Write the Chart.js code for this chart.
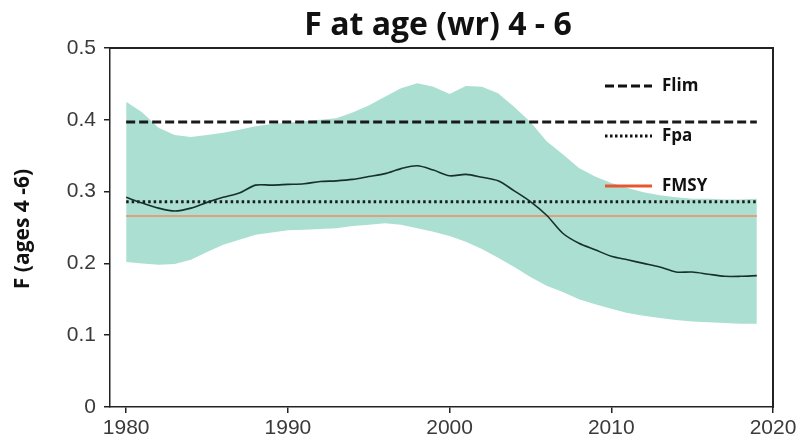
<!DOCTYPE html>
<html>
<head>
<meta charset="utf-8">
<script src="https://cdn.jsdelivr.net/npm/chart.js@4"></script>
<style>
  body { margin: 0; background: #fff; }
</style>
</head>
<body>
<canvas id="fChart" width="800" height="447"></canvas>
<script>
const years = [1980, 1981, 1982, 1983, 1984, 1985, 1986, 1987, 1988, 1989,
  1990, 1991, 1992, 1993, 1994, 1995, 1996, 1997, 1998, 1999,
  2000, 2001, 2002, 2003, 2004, 2005, 2006, 2007, 2008, 2009,
  2010, 2011, 2012, 2013, 2014, 2015, 2016, 2017, 2018, 2019];
const fMean = [0.292, 0.284, 0.277, 0.273, 0.277, 0.285, 0.292, 0.298, 0.309, 0.309,
  0.310, 0.311, 0.314, 0.315, 0.317, 0.321, 0.325, 0.332, 0.336, 0.330,
  0.322, 0.324, 0.320, 0.315, 0.301, 0.286, 0.267, 0.242, 0.228, 0.219,
  0.210, 0.205, 0.200, 0.195, 0.188, 0.188, 0.185, 0.182, 0.182, 0.183];
const fUpper = [0.425, 0.410, 0.389, 0.379, 0.376, 0.379, 0.382, 0.386, 0.391, 0.394,
  0.396, 0.398, 0.400, 0.402, 0.410, 0.420, 0.432, 0.444, 0.451, 0.446,
  0.436, 0.447, 0.446, 0.437, 0.418, 0.397, 0.370, 0.352, 0.333, 0.321,
  0.312, 0.305, 0.299, 0.295, 0.292, 0.290, 0.290, 0.289, 0.289, 0.290];
const fLower = [0.202, 0.200, 0.198, 0.199, 0.205, 0.216, 0.226, 0.233, 0.240, 0.243,
  0.246, 0.247, 0.248, 0.249, 0.252, 0.254, 0.256, 0.254, 0.249, 0.244,
  0.238, 0.230, 0.220, 0.208, 0.195, 0.181, 0.169, 0.160, 0.150, 0.143,
  0.137, 0.131, 0.127, 0.124, 0.121, 0.119, 0.118, 0.117, 0.116, 0.116];
const Flim = 0.397;
const Fpa = 0.286;
const FMSY = 0.266;
const xTicks = [1980, 1990, 2000, 2010, 2020];
const yTicks = [0, 0.1, 0.2, 0.3, 0.4, 0.5];

const toPoints = vals => years.map((y, i) => ({ x: y, y: vals[i] }));
const flat = v => [{ x: years[0], y: v }, { x: years[years.length - 1], y: v }];

// frame, title, axis title and the little legend
const decorations = {
  id: 'decorations',
  afterDraw(chart) {
    const ctx = chart.ctx;
    const a = chart.chartArea;
    ctx.save();
    // top and right edges of the frame as thin filled strips
    ctx.fillStyle = '#222';
    ctx.fillRect(a.left - 1, a.top - 1, a.width + 2, 2);
    ctx.fillRect(a.right - 1, a.top - 1, 2, a.height + 2);

    ctx.fillStyle = '#111';
    ctx.font = 'bold 32px "Open Sans"';
    ctx.textAlign = 'center';
    ctx.textBaseline = 'alphabetic';
    ctx.fillText('F at age (wr) 4 - 6', 438, 35);

    ctx.save();
    ctx.translate(23, 229);
    ctx.rotate(-Math.PI / 2);
    ctx.font = 'bold 21px "Open Sans"';
    ctx.textBaseline = 'middle';
    ctx.fillText('F (ages 4 -6)', 0, 0);
    ctx.restore();

    const items = [
      { label: 'Flim', y: 86, color: '#111', dash: [9, 4], width: 3 },
      { label: 'Fpa', y: 136, color: '#111', dash: [2.5, 2.5], width: 3 },
      { label: 'FMSY', y: 186, color: '#e8562e', dash: [], width: 3 }
    ];
    ctx.font = 'bold 17px "Open Sans"';
    ctx.textAlign = 'left';
    ctx.textBaseline = 'middle';
    items.forEach(it => {
      ctx.beginPath();
      ctx.setLineDash(it.dash);
      ctx.strokeStyle = it.color;
      ctx.lineWidth = it.width;
      ctx.moveTo(605, it.y);
      ctx.lineTo(652, it.y);
      ctx.stroke();
      ctx.fillStyle = '#111';
      ctx.fillText(it.label, 662, it.y);
    });
    ctx.restore();
  }
};

new Chart(document.getElementById('fChart'), {
  type: 'line',
  data: {
    datasets: [
      { label: 'F', data: toPoints(fMean), borderColor: '#17302a', borderWidth: 1.6, pointRadius: 0, tension: 0.3, order: 1 },
      { label: 'Flim', data: flat(Flim), borderColor: '#1a1a1a', borderWidth: 3, borderDash: [9, 4], pointRadius: 0, order: 2 },
      { label: 'Fpa', data: flat(Fpa), borderColor: '#1a1a1a', borderWidth: 3, borderDash: [2.5, 3], pointRadius: 0, order: 3 },
      { label: 'FMSY', data: flat(FMSY), borderColor: '#e0a07a', borderWidth: 2, pointRadius: 0, order: 4 },
      { label: 'upper', data: toPoints(fUpper), borderWidth: 0, pointRadius: 0, backgroundColor: '#abdfd1', fill: '+1', order: 10 },
      { label: 'lower', data: toPoints(fLower), borderWidth: 0, pointRadius: 0, fill: false, order: 11 }
    ]
  },
  options: {
    responsive: false,
    animation: false,
    layout: { padding: { left: 0, right: 27, top: 48, bottom: 0 } },
    plugins: { legend: { display: false }, tooltip: { enabled: false } },
    scales: {
      x: {
        type: 'linear', min: 1979, max: 2020,
        afterBuildTicks: scale => { scale.ticks = xTicks.map(v => ({ value: v })); },
        afterFit: scale => { scale.height = 40; },
        grid: { drawOnChartArea: false, tickLength: 6, color: '#222', lineWidth: 1.5 },
        border: { color: '#222', width: 1.5 },
        ticks: { color: '#3a3a3a', font: { family: 'Liberation Sans', size: 21 }, padding: 3, maxRotation: 0, callback: v => String(v) }
      },
      y: {
        min: 0, max: 0.5,
        afterBuildTicks: scale => { scale.ticks = yTicks.map(v => ({ value: v })); },
        afterFit: scale => { scale.width = 110; },
        grid: { drawOnChartArea: false, tickLength: 6, color: '#222', lineWidth: 1.5 },
        border: { color: '#222', width: 1.5 },
        ticks: { color: '#3a3a3a', font: { family: 'Liberation Sans', size: 21 }, padding: 8, callback: v => (v === 0 ? '0' : v.toFixed(1)) }
      }
    }
  },
  plugins: [decorations]
});
</script>
</body>
</html>
